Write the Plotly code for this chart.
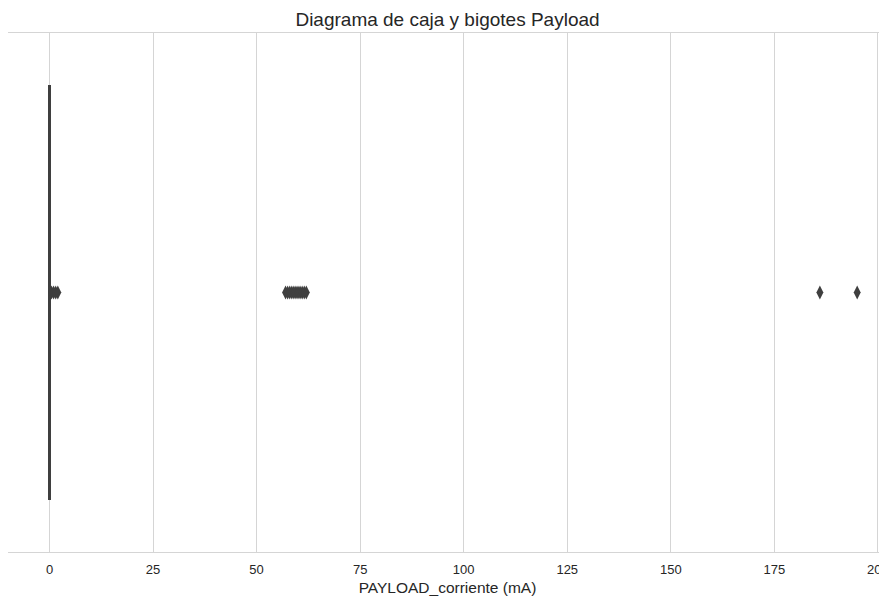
import plotly.graph_objects as go

# Box statistics (degenerate box: almost all readings are 0 mA)
q1 = [0.0]
median = [0.0]
q3 = [0.0]
lower_fence = [0.0]
upper_fence = [0.0]

# Outliers (mA)
outliers = [0.5, 1.0, 1.5, 2.0,
            57.0, 57.5, 58.0, 58.5, 59.0, 59.5, 60.0, 60.5, 61.0, 61.5, 62.0,
            186.0, 195.0]

tick_vals = [0, 25, 50, 75, 100, 125, 150, 175, 200]
tick_text = [str(v) for v in tick_vals]

dark = "#3f3f3f"

fig = go.Figure()
fig.add_trace(go.Box(
    orientation="h",
    y=[0], q1=q1, median=median, q3=q3,
    lowerfence=lower_fence, upperfence=upper_fence,
    width=0.8,
    line=dict(color=dark, width=3),
    fillcolor="rgba(0,0,0,0)",
    boxpoints=False,
    showlegend=False,
    hoverinfo="skip",
))
fig.add_trace(go.Scatter(
    x=outliers, y=[0] * len(outliers),
    mode="markers",
    marker=dict(symbol="diamond-tall", size=10, color=dark, line=dict(width=0)),
    showlegend=False,
))

# The page body has an 8px margin, so the figure is sized to fit the window.
fig.update_layout(
    width=879, height=592,
    margin=dict(l=0, r=0, t=25, b=48),
    paper_bgcolor="white", plot_bgcolor="white",
    font=dict(family="Liberation Sans, Arial, sans-serif", size=13, color="#262626"),
    title=dict(text="Diagrama de caja y bigotes Payload", x=0.5, xanchor="center",
               y=1 - 11 / 592, yanchor="middle",
               font=dict(size=19, color="#262626")),
    xaxis=dict(range=[-10.02, 202.2], tickvals=tick_vals, ticktext=tick_text,
               automargin=False, ticklabeloverflow="allow",
               tickfont=dict(size=13, color="#262626"),
               showgrid=True, gridcolor="#d5d5d5", gridwidth=1,
               zeroline=False, showline=True, linecolor="#d5d5d5", linewidth=1,
               mirror=True, ticks="outside", ticklen=5, tickcolor="white",
               title=dict(text="PAYLOAD_corriente (mA)", standoff=6,
                          font=dict(size=15.5, color="#262626"))),
    yaxis=dict(range=[-0.5, 0.5], showticklabels=False, showgrid=False,
               automargin=False,
               zeroline=False, showline=True, linecolor="#d5d5d5", linewidth=1,
               mirror=True),
)

fig.write_html("out.html")
